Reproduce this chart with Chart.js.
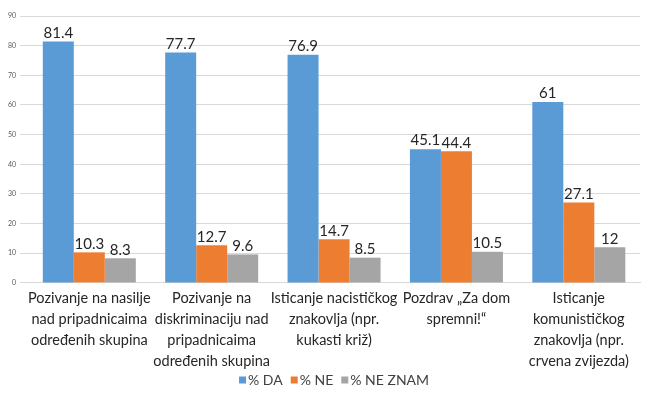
<!DOCTYPE html>
<html>
<head>
<meta charset="utf-8">
<script src="https://cdn.jsdelivr.net/npm/chart.js@4/dist/chart.umd.min.js"></script>
<style>
  body { margin: 0; background: #fff; }
  #wrap { width: 650px; height: 394px; }
</style>
</head>
<body>
<div id="wrap"><canvas id="chart"></canvas></div>
<script>
// categories and series
var categories = [
    ['Pozivanje na nasilje', 'nad pripadnicaima', 'određenih skupina'],
    ['Pozivanje na', 'diskriminaciju nad', 'pripadnicaima', 'određenih skupina'],
    ['Isticanje nacističkog', 'znakovlja (npr.', 'kukasti križ)'],
    ['Pozdrav „Za dom', 'spremni!“'],
    ['Isticanje', 'komunističkog', 'znakovlja (npr.', 'crvena zvijezda)']
];
var da = [81.4, 77.7, 76.9, 45.1, 61];
var ne = [10.3, 12.7, 14.7, 44.4, 27.1];
var neZnam = [8.3, 9.6, 8.5, 10.5, 12];

// draws the value above each bar
var valueLabels = {
    id: 'valueLabels',
    afterDatasetsDraw: function (chart) {
        var ctx = chart.ctx;
        ctx.save();
        ctx.font = '15px Lato';
        ctx.fillStyle = '#262626';
        ctx.textAlign = 'center';
        ctx.textBaseline = 'bottom';
        chart.data.datasets.forEach(function (ds, i) {
            chart.getDatasetMeta(i).data.forEach(function (bar, j) {
                ctx.fillText(String(ds.data[j]), bar.x, bar.y - 1);
            });
        });
        ctx.restore();
    }
};

// small legend that sits tight under the category labels
var bottomLegend = {
    id: 'bottomLegend',
    afterDraw: function (chart) {
        var ctx = chart.ctx;
        var box = 7, gap = 2, spacing = 8, y = 380;
        ctx.save();
        ctx.font = '14px Lato';
        ctx.textBaseline = 'middle';
        var sets = chart.data.datasets;
        var total = 0;
        sets.forEach(function (ds, i) {
            total += box + gap + ctx.measureText(ds.label).width;
            if (i < sets.length - 1) total += spacing;
        });
        var x = (chart.chartArea.left + chart.chartArea.right) / 2 - total / 2;
        sets.forEach(function (ds) {
            ctx.fillStyle = ds.backgroundColor;
            ctx.fillRect(x, y - box / 2, box, box);
            x += box + gap;
            ctx.fillStyle = '#404040';
            ctx.fillText(ds.label, x, y);
            x += ctx.measureText(ds.label).width + spacing;
        });
        ctx.restore();
    }
};

var ctx = document.getElementById('chart').getContext('2d');
var myChart = new Chart(ctx, {
    type: 'bar',
    data: {
        labels: categories,
        datasets: [
            { label: '% DA', data: da, backgroundColor: '#5B9BD5' },
            { label: '% NE', data: ne, backgroundColor: '#ED7D31' },
            { label: '% NE ZNAM', data: neZnam, backgroundColor: '#A5A5A5' }
        ]
    },
    options: {
        responsive: true,
        maintainAspectRatio: false,
        animation: false,
        layout: { padding: { left: 4, right: 10, top: 16, bottom: 17 } },
        datasets: {
            bar: { categoryPercentage: 0.76, barPercentage: 1.0 }
        },
        plugins: {
            legend: { display: false },
            tooltip: { enabled: false }
        },
        scales: {
            x: {
                grid: { display: false, drawTicks: false },
                border: { color: '#D9D9D9' },
                ticks: {
                    color: '#262626',
                    maxRotation: 0,
                    autoSkip: false,
                    padding: 5,
                    font: { family: 'Lato', size: 14.5, lineHeight: 1.45 }
                }
            },
            y: {
                min: 0,
                max: 90,
                ticks: {
                    stepSize: 10,
                    color: '#595959',
                    font: { family: 'Lato', size: 7 },
                    padding: 4
                },
                grid: { color: '#D9D9D9', tickLength: 8 },
                border: { display: false }
            }
        }
    },
    plugins: [valueLabels, bottomLegend]
});
</script>
</body>
</html>
